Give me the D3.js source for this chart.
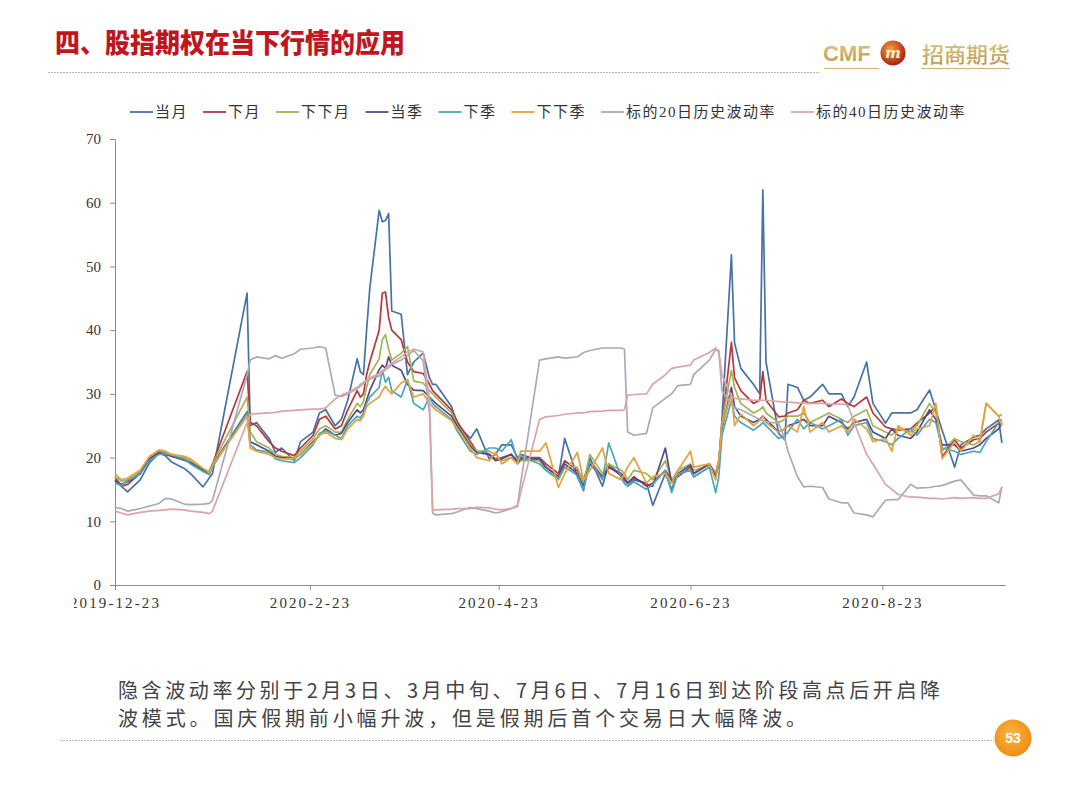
<!DOCTYPE html>
<html>
<head>
<meta charset="utf-8">
<script src="https://cdn.jsdelivr.net/npm/d3@7"></script>
<style>
body{margin:0;background:#fff;}
svg{display:block;}
</style>
</head>
<body>
<svg id="slide" width="1080" height="786"></svg>
<script>
// trading days sampled from the chart
var dates = [
 '2019-12-23','2019-12-25','2019-12-27','2019-12-31',
 '2020-01-03','2020-01-06','2020-01-08','2020-01-10','2020-01-14','2020-01-16','2020-01-20','2020-01-22','2020-01-23',
 '2020-02-03','2020-02-04','2020-02-06','2020-02-10','2020-02-12','2020-02-14','2020-02-18','2020-02-20','2020-02-24','2020-02-26','2020-02-28',
 '2020-03-02','2020-03-04','2020-03-06','2020-03-09','2020-03-10','2020-03-11','2020-03-12','2020-03-13','2020-03-16','2020-03-17','2020-03-18','2020-03-19','2020-03-20','2020-03-23','2020-03-25','2020-03-27','2020-03-30',
 '2020-04-01','2020-04-02','2020-04-03','2020-04-08','2020-04-10','2020-04-14','2020-04-16','2020-04-20','2020-04-22','2020-04-24','2020-04-27','2020-04-29','2020-04-30',
 '2020-05-06','2020-05-08','2020-05-12','2020-05-14','2020-05-18','2020-05-20','2020-05-22','2020-05-26','2020-05-28',
 '2020-06-01','2020-06-02','2020-06-03','2020-06-05','2020-06-09','2020-06-11','2020-06-15','2020-06-17','2020-06-19','2020-06-23','2020-06-24','2020-06-29',
 '2020-07-01','2020-07-02','2020-07-03','2020-07-06','2020-07-07','2020-07-09','2020-07-13','2020-07-15','2020-07-16','2020-07-17','2020-07-21','2020-07-23','2020-07-24','2020-07-27','2020-07-29','2020-07-31',
 '2020-08-04','2020-08-06','2020-08-10','2020-08-12','2020-08-14','2020-08-18','2020-08-20','2020-08-24','2020-08-26','2020-08-28',
 '2020-09-01','2020-09-03','2020-09-07','2020-09-09','2020-09-11','2020-09-15','2020-09-17','2020-09-21','2020-09-23','2020-09-25','2020-09-29','2020-09-30'
];

var curMonth = [17.0,15.5,14.6,16.5,
 19.2,20.7,20.3,19.3,18.3,17.5,15.4,16.8,17.5,
 45.8,25.0,25.5,23.0,20.8,21.5,19.5,22.5,24.0,27.0,27.5,
 25.0,26.0,29.0,35.5,33.5,33.0,40.0,46.5,58.8,57.0,57.2,58.3,43.0,42.5,33.0,35.0,36.4,
 32.5,31.5,31.5,28.0,25.0,23.0,24.5,19.8,20.5,22.0,22.0,20.0,20.5,
 19.5,18.5,17.0,23.0,17.0,14.8,20.0,15.5,19.0,
 17.0,16.0,15.5,16.5,16.0,12.5,17.5,15.0,17.5,18.0,17.0,18.5,
 17.5,19.0,26.0,51.8,38.0,34.0,31.5,30.0,62.0,35.0,23.8,22.8,31.5,31.0,29.0,29.5,
 31.5,30.0,30.0,28.0,29.5,35.0,28.5,25.4,27.0,27.0,
 27.0,27.5,30.6,27.5,24.3,18.5,22.0,23.2,23.5,24.5,25.9,22.3];

var nextMonth = [16.5,15.5,15.8,17.5,
 19.8,20.8,20.5,20.2,19.8,19.3,18.0,17.8,19.0,
 33.5,25.5,25.0,22.5,21.5,21.0,20.3,21.5,23.5,26.0,26.5,
 24.5,25.0,27.5,30.5,29.5,30.0,33.0,35.0,40.0,45.8,46.0,42.0,40.0,38.5,35.0,33.5,33.2,
 31.5,30.5,30.0,27.5,25.5,22.5,21.0,20.5,19.8,20.0,20.5,19.5,20.0,
 20.0,19.0,17.5,19.5,18.0,16.5,19.5,17.0,18.5,
 17.5,16.8,16.0,17.0,15.5,16.0,18.0,16.5,17.0,18.5,17.5,19.0,
 17.5,19.5,25.0,38.1,32.5,30.5,28.5,29.0,33.5,29.0,26.4,26.5,27.0,27.5,29.0,28.5,
 29.0,28.0,29.2,28.5,28.0,29.5,27.0,24.8,24.5,24.3,
 24.5,25.4,27.0,28.0,20.1,22.8,21.5,22.8,23.0,24.0,25.4,25.0];

var farMonth = [17.0,16.3,16.5,17.8,
 20.0,21.0,20.8,20.5,20.0,19.5,18.2,17.8,19.0,
 29.5,24.0,22.5,21.5,20.5,20.2,20.0,21.0,23.0,24.5,25.0,
 24.0,24.0,26.0,28.5,28.0,28.8,31.0,33.0,35.5,38.5,39.3,37.0,35.3,36.4,37.4,32.0,31.7,
 30.5,30.0,29.5,27.0,25.0,22.0,21.0,21.0,20.5,19.5,20.0,19.0,19.5,
 19.5,18.0,16.5,18.5,18.5,16.0,20.5,17.5,19.0,
 18.0,17.5,16.5,18.0,17.5,16.5,19.5,16.5,18.0,19.0,18.0,18.8,
 17.5,19.5,25.5,33.7,31.0,28.5,27.0,27.5,28.0,27.0,25.5,26.0,26.5,26.5,27.0,25.5,
 26.5,27.0,26.0,25.5,26.5,27.5,25.0,24.0,23.5,24.5,
 24.0,25.0,28.5,27.0,21.0,23.0,22.5,22.0,22.5,28.5,26.5,26.8];

var curQuarter = [16.3,15.8,16.2,17.5,
 19.8,20.8,20.6,20.2,19.6,19.2,18.0,17.5,18.8,
 27.2,22.5,22.0,21.0,20.2,20.0,19.8,20.5,22.5,23.5,24.5,
 23.5,23.8,25.5,27.5,27.0,27.5,29.0,30.5,33.8,34.5,34.0,35.8,34.5,33.7,31.5,30.6,30.5,
 29.5,29.0,28.5,26.5,24.8,21.8,20.8,20.5,19.5,19.8,20.5,19.2,19.8,
 19.8,18.5,17.0,19.0,17.5,15.5,19.0,16.8,18.5,
 17.2,16.5,16.0,16.8,15.8,15.5,21.5,16.0,17.5,18.8,17.5,19.0,
 17.0,19.0,24.5,31.0,28.0,26.5,25.5,26.0,26.5,26.0,24.0,24.5,25.0,25.5,26.0,25.0,
 25.0,26.5,25.5,24.5,25.5,26.0,24.0,23.0,24.5,23.5,
 23.0,24.0,27.5,26.0,22.0,22.0,21.0,21.5,22.0,23.0,24.5,25.5];

var nextQuarter = [16.0,15.6,16.4,17.4,
 19.5,20.5,20.6,20.4,19.8,19.0,17.8,17.3,18.5,
 27.0,22.0,21.2,20.8,19.8,19.5,19.2,20.0,22.0,23.8,24.2,
 23.5,23.0,25.0,26.5,26.2,27.0,28.5,29.5,31.0,33.7,31.8,32.6,30.5,29.5,32.2,28.5,27.5,
 29.5,28.5,28.0,26.0,24.0,21.0,20.5,21.5,21.5,21.0,22.8,19.5,20.2,
 19.0,18.0,16.8,18.5,17.2,15.0,19.5,16.5,22.3,
 16.8,16.0,15.5,16.2,15.0,15.8,18.0,14.5,17.5,18.0,17.0,18.5,
 14.5,17.0,23.5,29.0,26.5,25.5,24.3,25.0,25.5,25.0,23.0,23.5,24.0,26.0,24.5,25.5,
 24.5,25.0,26.0,23.5,25.0,25.5,23.0,22.5,22.0,23.0,
 24.5,23.5,26.0,25.5,21.5,21.0,20.5,21.0,20.8,22.5,25.5,26.0];

var farQuarter = [17.5,16.5,16.8,18.0,
 20.2,21.2,21.0,20.5,20.2,19.8,18.3,17.6,18.8,
 26.5,21.5,21.0,20.5,20.0,19.8,19.8,20.5,22.3,23.5,24.0,
 23.0,22.8,24.5,26.0,25.8,26.5,28.0,28.5,29.5,30.5,31.2,30.5,30.0,31.7,32.2,29.5,30.0,
 28.5,28.0,27.5,25.8,24.5,21.5,20.0,19.5,20.8,19.0,20.0,19.0,21.0,
 21.0,22.3,15.3,17.5,20.8,16.5,18.0,21.5,17.5,
 16.5,17.5,18.5,20.0,16.0,17.0,17.5,16.0,18.0,21.0,18.5,19.0,
 16.5,19.5,25.0,30.0,25.0,26.8,25.0,25.8,26.5,25.5,24.0,24.5,25.0,24.0,28.0,24.0,
 25.5,24.0,25.0,24.0,26.0,24.5,22.5,23.0,21.0,25.0,
 23.5,24.5,25.0,28.5,19.8,22.5,21.0,23.5,22.5,28.5,26.5,25.0];

var hv20 = [12.2,12.0,11.6,12.0,
 12.4,12.8,13.6,13.5,12.7,12.6,12.7,12.8,13.3,
 33.0,35.3,35.8,35.5,36.0,35.6,36.3,37.0,37.2,37.4,37.2,
 29.8,29.6,30.0,30.8,31.2,31.6,32.0,32.3,32.8,33.3,33.8,34.1,34.6,35.3,36.0,36.8,35.2,
 27.0,11.3,11.0,11.2,11.5,12.2,12.0,11.6,11.3,11.5,12.0,12.5,16.0,
 35.3,35.5,35.8,35.6,35.8,36.5,36.8,37.2,37.2,
 37.2,37.0,24.0,23.5,23.8,27.8,29.3,30.0,31.3,31.5,33.0,35.3,
 37.0,36.8,30.5,28.5,27.8,27.5,26.5,26.0,25.8,25.6,25.4,23.0,21.0,17.0,15.4,15.5,
 15.3,13.5,12.9,12.9,11.3,11.0,10.7,13.3,13.4,13.4,
 15.8,15.2,15.3,15.5,15.6,16.3,16.5,14.1,14.0,14.0,12.9,15.4];

var hv40 = [11.6,11.3,11.0,11.4,
 11.6,11.7,11.8,11.9,11.8,11.6,11.4,11.2,11.6,
 25.5,26.8,26.9,27.0,27.1,27.3,27.4,27.5,27.6,27.6,27.8,
 29.2,29.8,30.2,31.0,31.5,31.8,32.2,32.5,33.2,33.6,34.0,34.5,34.8,35.8,36.6,37.0,36.6,
 29.0,11.8,11.8,11.9,12.0,12.0,12.2,12.1,11.9,11.8,12.0,12.3,14.5,
 26.0,26.4,26.6,26.8,27.0,27.0,27.2,27.3,27.4,
 27.4,27.5,29.8,29.9,30.0,31.5,33.0,34.0,34.2,34.5,35.3,36.5,
 37.2,36.5,33.0,29.5,29.3,29.2,29.0,29.0,29.0,29.0,28.8,28.7,28.7,28.6,28.5,28.5,
 28.5,28.4,28.4,28.3,25.5,20.5,19.0,15.8,15.0,14.2,
 13.8,13.8,13.6,13.6,13.5,13.7,13.6,13.7,13.6,13.6,14.3,15.4];

var seriesNames = ['当月','下月','下下月','当季','下季','下下季','标的20日历史波动率','标的40日历史波动率'];
var seriesColors = ['#4672a8','#b9363b','#a2b556','#574a88','#4aa8b8','#e8a03c','#aaa9bd','#dca4a4'];
var seriesValues = [curMonth,nextMonth,farMonth,curQuarter,nextQuarter,farQuarter,hv20,hv40];

var yTicks = d3.range(0,71,10);
var xTickDates = ['2019-12-23','2020-02-23','2020-04-23','2020-06-23','2020-08-23'];

var title = '四、股指期权在当下行情的应用';
var noteLines = ['隐含波动率分别于2月3日、3月中旬、7月6日、7月16日到达阶段高点后开启降',
                 '波模式。国庆假期前小幅升波，但是假期后首个交易日大幅降波。'];
var pageNo = '53';

var parse = d3.timeParse('%Y-%m-%d');
var svg = d3.select('#slide');
var defs = svg.append('defs');

var serif = "'Liberation Serif','Noto Sans CJK SC',serif";
var cjk = "'Noto Sans CJK SC',sans-serif";

//Title
svg.append('text')
	.attr('x',55).attr('y',53)
	.attr('font-family',cjk).attr('font-weight',900)
	.attr('font-size',27).attr('fill','#c1161e')
	.attr('textLength',350).attr('lengthAdjust','spacingAndGlyphs')
	.text(title);

svg.append('line')
	.attr('x1',48).attr('x2',820).attr('y1',72.5).attr('y2',72.5)
	.attr('stroke','#b8b8b8').attr('stroke-width',1).attr('stroke-dasharray','2,1');

//Logo
var gold = defs.append('linearGradient').attr('id','gold').attr('x1',0).attr('y1',0).attr('x2',0).attr('y2',1);
gold.append('stop').attr('offset','0%').attr('stop-color','#e2c98a');
gold.append('stop').attr('offset','100%').attr('stop-color','#b8954a');
var ball = defs.append('radialGradient').attr('id','ball').attr('cx','40%').attr('cy','35%').attr('r','65%');
ball.append('stop').attr('offset','0%').attr('stop-color','#f6a040');
ball.append('stop').attr('offset','100%').attr('stop-color','#a81f0e');

var logo = svg.append('g');
logo.append('text').attr('x',823).attr('y',61)
	.attr('font-family',"'Liberation Sans',Arial,sans-serif").attr('font-weight',700)
	.attr('font-size',22).attr('fill','url(#gold)').text('CMF');
logo.append('circle').attr('cx',893).attr('cy',53).attr('r',12.5).attr('fill','url(#ball)');
logo.append('text').attr('x',893).attr('y',58).attr('text-anchor','middle')
	.attr('font-family',"'DejaVu Serif',serif").attr('font-style','italic').attr('font-weight',700)
	.attr('font-size',15).attr('fill','#fff2c8').text('m');
logo.append('text').attr('x',922).attr('y',62)
	.attr('font-family',cjk).attr('font-weight',500)
	.attr('font-size',21).attr('fill','url(#gold)')
	.attr('textLength',88).attr('lengthAdjust','spacingAndGlyphs').text('招商期货');
logo.append('line').attr('x1',824).attr('x2',879).attr('y1',68.5).attr('y2',68.5)
	.attr('stroke','#cdb27a').attr('stroke-width',1.2);
logo.append('line').attr('x1',921).attr('x2',1010).attr('y1',68.5).attr('y2',68.5)
	.attr('stroke','#cdb27a').attr('stroke-width',1.2);

//Chart
defs.append('clipPath').attr('id','clipLeft')
	.append('rect').attr('x',74).attr('y',0).attr('width',1006).attr('height',786);
var chart = svg.append('g').attr('clip-path','url(#clipLeft)');

var x = d3.scaleTime().domain([parse('2019-12-23'),parse('2020-10-01')]).range([115,1005]);
var y = d3.scaleLinear().domain([0,70]).range([585,139]);

var yAxis = d3.axisLeft(y).tickValues(yTicks).tickSize(5).tickSizeOuter(0).tickPadding(9);
var xAxis = d3.axisBottom(x).tickValues(xTickDates.map(parse))
	.tickFormat(d3.timeFormat('%Y-%-m-%d')).tickSize(5).tickSizeOuter(0).tickPadding(7);

var gy = chart.append('g').attr('class','axis axis-y').attr('transform','translate(115,0)').call(yAxis);
var gx = chart.append('g').attr('class','axis axis-x').attr('transform','translate(0,585)').call(xAxis);
[gx,gy].forEach(function(g){
	g.select('.domain').attr('stroke','#8c8c8c');
	g.selectAll('.tick line').attr('stroke','#8c8c8c');
	g.selectAll('.tick text').attr('fill','#333').attr('font-family',serif).attr('font-size',15);
});
gx.selectAll('.tick text').attr('letter-spacing','2.1px');

var line = d3.line()
	.x(function(d){return x(d.date)})
	.y(function(d){return y(d.v)});

seriesValues.forEach(function(vals,i){
	var pts = vals.map(function(v,j){return {date:parse(dates[j]),v:v}});
	chart.append('path').datum(pts)
		.attr('d',line)
		.attr('fill','none')
		.attr('stroke',seriesColors[i])
		.attr('stroke-width',1.7)
		.attr('stroke-linejoin','round');
});

//Legend
var legend = svg.append('g').attr('class','legend');
var items = legend.selectAll('g').data(seriesNames).enter().append('g');
items.append('line').attr('x1',0).attr('x2',23).attr('y1',0).attr('y2',0)
	.attr('stroke',function(d,i){return seriesColors[i]}).attr('stroke-width',1.8);
items.append('text').attr('x',25).attr('y',5)
	.attr('font-family',serif).attr('font-size',15).attr('fill','#333')
	.attr('letter-spacing','1.5px')
	.text(function(d){return d});
var widths = [];
items.each(function(){ widths.push(25 + d3.select(this).select('text').node().getComputedTextLength()); });
var LEG_START = 130, LEG_END = 966;
var gap = (LEG_END - LEG_START - d3.sum(widths)) / (widths.length - 1);
var cx = LEG_START;
items.attr('transform',function(d,i){
	var t = 'translate('+cx+',112)';
	cx += widths[i] + gap;
	return t;
});

//Note text
svg.selectAll('.note').data(noteLines).enter().append('text')
	.attr('class','note')
	.attr('x',118)
	.attr('y',function(d,i){return 698 + i*28})
	.attr('font-family',cjk).attr('font-size',20).attr('fill','#444')
	.attr('textLength',function(d,i){return i===0?822:688})
	.attr('lengthAdjust','spacing')
	.text(function(d){return d});

svg.append('line')
	.attr('x1',60).attr('x2',994).attr('y1',740.5).attr('y2',740.5)
	.attr('stroke','#b8b8b8').attr('stroke-width',1).attr('stroke-dasharray','2,1');

//Page number
var badge = defs.append('radialGradient').attr('id','badge').attr('cx','45%').attr('cy','40%').attr('r','60%');
badge.append('stop').attr('offset','0%').attr('stop-color','#fbb545');
badge.append('stop').attr('offset','100%').attr('stop-color','#ef8c14');
svg.append('circle').attr('cx',1013).attr('cy',738).attr('r',18.5).attr('fill','url(#badge)');
svg.append('text').attr('x',1013).attr('y',743).attr('text-anchor','middle')
	.attr('font-family',"'Liberation Sans',Arial,sans-serif").attr('font-weight',700)
	.attr('font-size',14).attr('fill','#fff').text(pageNo);
</script>
</body>
</html>
